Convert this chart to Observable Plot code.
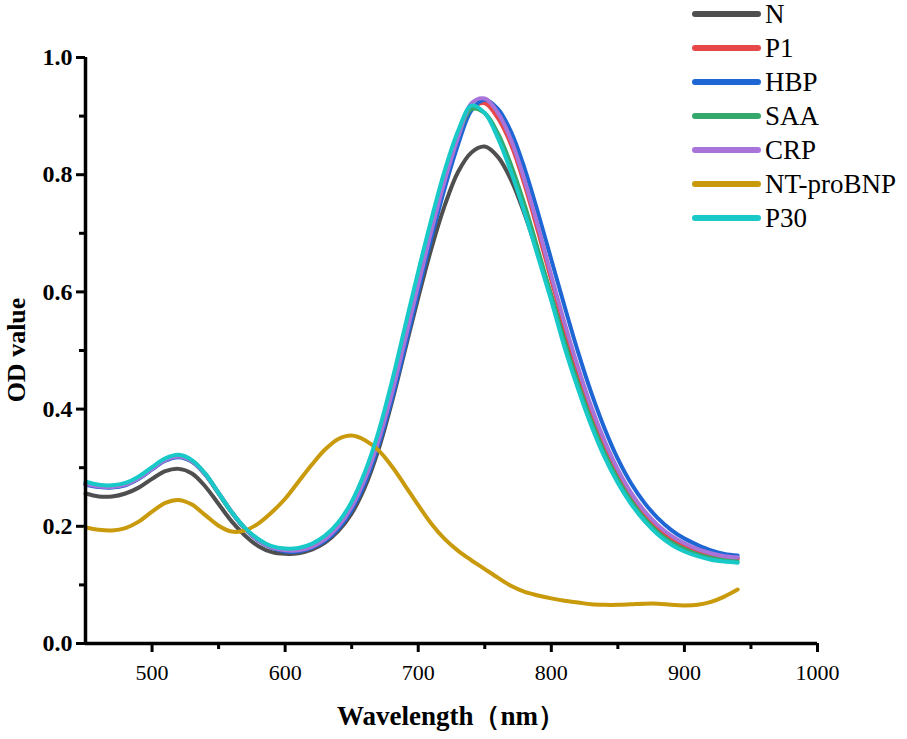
<!DOCTYPE html>
<html><head><meta charset="utf-8">
<script src="https://cdn.jsdelivr.net/npm/d3@7"></script>
<script src="https://cdn.jsdelivr.net/npm/@observablehq/plot@0.6"></script>
<style>
body{margin:0;background:#fff}
</style>
</head><body><div id="chart"></div>
<script>
const wavelength = [450,460,470,480,490,500,510,520,530,540,550,560,570,580,590,600,610,620,630,640,650,660,670,680,690,700,710,720,730,740,750,760,770,780,790,800,810,820,830,840,850,860,870,880,890,900,910,920,930,940];

const N =       [.256,.251,.251,.256,.266,.281,.294,.298,.290,.268,.238,.208,.184,.166,.156,.153,.154,.160,.172,.192,.222,.267,.330,.410,.500,.590,.675,.748,.805,.838,.848,.830,.790,.732,.665,.593,.520,.448,.382,.325,.278,.240,.210,.188,.172,.161,.153,.148,.146,.145];
const P1 =      [.273,.268,.267,.271,.282,.298,.313,.319,.311,.289,.257,.224,.196,.176,.164,.158,.158,.164,.177,.198,.230,.277,.341,.420,.512,.606,.699,.783,.858,.912,.922,.896,.850,.782,.703,.620,.539,.464,.397,.339,.290,.251,.220,.196,.179,.166,.157,.151,.147,.145];
const HBP =     [.271,.267,.266,.270,.281,.297,.312,.318,.310,.288,.256,.223,.195,.175,.163,.157,.157,.163,.175,.196,.228,.274,.337,.415,.505,.600,.693,.778,.852,.910,.928,.912,.872,.810,.735,.655,.575,.498,.428,.367,.315,.273,.240,.214,.194,.179,.168,.159,.153,.150];
const SAA =     [.274,.269,.268,.272,.283,.299,.314,.320,.311,.289,.256,.223,.196,.177,.165,.160,.161,.168,.182,.204,.238,.288,.354,.437,.531,.626,.716,.797,.866,.912,.905,.870,.815,.748,.672,.593,.515,.444,.380,.325,.280,.243,.213,.190,.173,.161,.152,.146,.142,.140];
const CRP =     [.272,.268,.267,.271,.282,.298,.313,.319,.311,.289,.257,.224,.196,.176,.164,.159,.159,.165,.178,.200,.233,.281,.345,.425,.517,.612,.705,.790,.864,.922,.930,.905,.858,.790,.712,.628,.547,.472,.404,.346,.297,.257,.226,.202,.184,.171,.161,.154,.149,.147];
const NTproBNP =[.198,.194,.193,.197,.208,.225,.240,.245,.237,.219,.201,.191,.193,.205,.224,.247,.276,.305,.331,.349,.355,.347,.330,.303,.270,.236,.204,.178,.158,.142,.127,.112,.098,.088,.082,.077,.073,.070,.067,.066,.066,.067,.068,.068,.066,.065,.066,.071,.080,.092];
const P30 =     [.276,.271,.270,.274,.285,.301,.316,.322,.313,.290,.257,.224,.197,.178,.166,.162,.163,.170,.184,.207,.242,.293,.360,.445,.540,.635,.725,.808,.875,.918,.905,.862,.803,.735,.660,.585,.505,.435,.372,.318,.274,.238,.209,.186,.169,.157,.149,.143,.140,.138];

const seriesNames = ["N","P1","HBP","SAA","CRP","NT-proBNP","P30"];
const seriesValues = [N,P1,HBP,SAA,CRP,NTproBNP,P30];
const seriesColors = ["#4f4f4f","#e8474a","#1d66d4","#35a96b","#a874da","#c99a0c","#18c9c8"];

const yMajor = [0,0.2,0.4,0.6,0.8,1.0];
const yMinor = [0.1,0.3,0.5,0.7,0.9];
const xMajor = [500,600,700,800,900,1000];
const xMinor = [550,650,750,850,950];

const rows = [];
seriesNames.forEach((name,i)=>{
  wavelength.forEach((w,j)=>rows.push({series:name, wl:w, od:seriesValues[i][j]}));
});

const serif = "Tinos, 'Liberation Serif', 'Times New Roman', 'DejaVu Serif', 'Noto Serif', serif";

const chart = Plot.plot({
  width: 907,
  height: 739,
  marginLeft: 85,
  marginRight: 90,
  marginTop: 57,
  marginBottom: 96,
  style: {fontFamily: serif, background: "#fff", overflow: "visible"},
  x: {domain:[450,1000]},
  y: {domain:[0,1]},
  color: {domain: seriesNames, range: seriesColors},
  marks: [
    Plot.axisY({ticks: yMajor, tickFormat: d3.format(".1f"), tickSize: 9, strokeWidth: 3, fontSize: 24, fontWeight: "bold", tickPadding: 4, label: null}),
    Plot.axisY({ticks: yMinor, tickFormat: () => "", tickSize: 6, strokeWidth: 3, label: null}),
    Plot.axisX({ticks: xMajor, tickFormat: d3.format("d"), tickSize: 9, strokeWidth: 3, fontSize: 22, tickPadding: 12, label: null}),
    Plot.axisX({ticks: xMinor, tickFormat: () => "", tickSize: 6, strokeWidth: 3, label: null}),
    Plot.line(rows, {x:"wl", y:"od", z:"series", stroke:"series", strokeWidth: 4, curve: "catmull-rom"}),
    Plot.ruleX([450], {strokeWidth: 3.5}),
    Plot.ruleY([0], {strokeWidth: 3.5})
  ]
});

const svg = d3.select(chart);
// axis titles
svg.append("text").attr("transform","translate(19,350) rotate(-90)")
  .attr("text-anchor","middle").attr("dominant-baseline","middle")
  .style("font-size","26px").style("font-weight","bold").text("OD value");
svg.append("text").attr("x",451).attr("y",719)
  .attr("text-anchor","middle").attr("dominant-baseline","middle")
  .style("font-size","27px").style("font-weight","bold").text("Wavelength（nm）");

// legend
const lg = svg.append("g");
seriesNames.forEach((name,i)=>{
  const y = 14 + i*34;
  lg.append("line").attr("x1",695).attr("x2",758).attr("y1",y).attr("y2",y)
    .attr("stroke",seriesColors[i]).attr("stroke-width",6).attr("stroke-linecap","round");
  lg.append("text").attr("x",765).attr("y",y + 9).attr("text-anchor","start")
    .style("font-size","27px").text(name);
});

svg.selectAll("text").style("font-family", serif, "important");

document.getElementById("chart").appendChild(chart);
</script>
</body></html>
